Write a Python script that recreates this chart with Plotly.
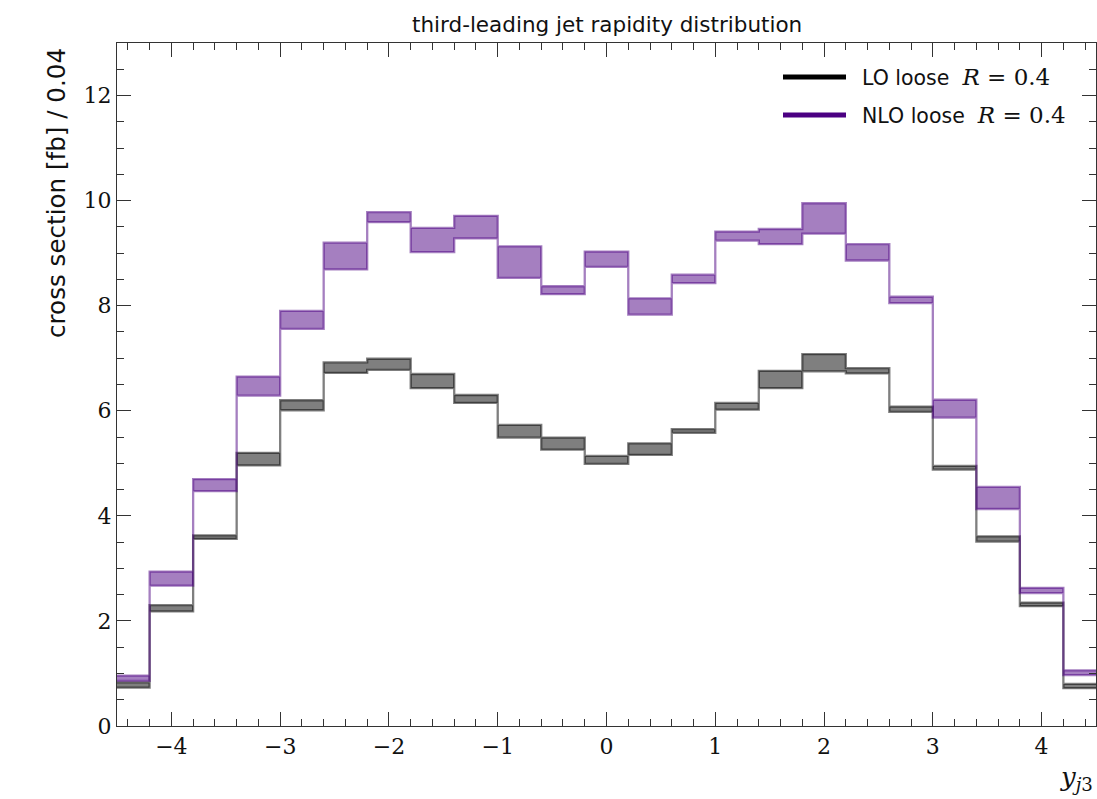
import plotly.graph_objects as go

# Rapidity bins of the third-leading jet (width 0.4)
bin_edges = [-4.6, -4.2, -3.8, -3.4, -3.0, -2.6, -2.2, -1.8, -1.4, -1.0, -0.6, -0.2,
             0.2, 0.6, 1.0, 1.4, 1.8, 2.2, 2.6, 3.0, 3.4, 3.8, 4.2, 4.6]

# LO scale-variation band (lower / upper edge), fb per bin
lo_low = [0.73, 2.18, 3.56, 4.96, 6.01, 6.72, 6.78, 6.43, 6.15, 5.49, 5.26, 4.99,
          5.16, 5.58, 6.02, 6.43, 6.75, 6.71, 5.98, 4.88, 3.51, 2.28, 0.72]
lo_high = [0.83, 2.30, 3.63, 5.20, 6.20, 6.92, 6.99, 6.70, 6.30, 5.73, 5.49, 5.14,
           5.38, 5.65, 6.15, 6.76, 7.08, 6.81, 6.08, 4.95, 3.61, 2.35, 0.80]

# NLO scale-variation band (lower / upper edge), fb per bin
nlo_low = [0.86, 2.67, 4.47, 6.29, 7.56, 8.69, 9.59, 9.02, 9.28, 8.53, 8.22, 8.74,
           7.83, 8.43, 9.24, 9.17, 9.37, 8.86, 8.05, 5.87, 4.13, 2.53, 0.97]
nlo_high = [0.96, 2.94, 4.70, 6.65, 7.90, 9.20, 9.78, 9.48, 9.71, 9.13, 8.37, 9.03,
            8.14, 8.59, 9.41, 9.46, 9.95, 9.17, 8.17, 6.21, 4.55, 2.63, 1.06]

x_ticks = [-4, -3, -2, -1, 0, 1, 2, 3, 4]
y_ticks = [0, 2, 4, 6, 8, 10, 12]

LO_COLOR = (0, 0, 0)
NLO_COLOR = (75, 0, 130)

SANS = "DejaVu Sans"
SERIF = "DejaVu Serif"

# plot-area geometry in pixels
W, H = 1097, 799
ML, MR, MT, MB = 117, 1, 43, 73
PW, PH = W - ML - MR, H - MT - MB


def rgba(c, a):
    return f"rgba({c[0]},{c[1]},{c[2]},{a})"


def band_outline(edges, low, high):
    """Closed step-shaped polygon: upper edge left->right, lower edge back."""
    xs, ys = [], []
    for i in range(len(high)):
        xs += [edges[i], edges[i + 1]]
        ys += [high[i], high[i]]
    for i in reversed(range(len(low))):
        xs += [edges[i + 1], edges[i]]
        ys += [low[i], low[i]]
    xs.append(xs[0])
    ys.append(ys[0])
    return xs, ys


fig = go.Figure()
for low, high, col in [(lo_low, lo_high, LO_COLOR), (nlo_low, nlo_high, NLO_COLOR)]:
    bx, by = band_outline(bin_edges, low, high)
    fig.add_trace(go.Scatter(
        x=bx, y=by, mode="lines", fill="toself",
        fillcolor=rgba(col, 0.5),
        line=dict(color=rgba(col, 0.5), width=2.3),
        hoverinfo="skip", showlegend=False,
    ))

axis_common = dict(
    showline=True, linecolor="#333", linewidth=1.4, mirror="allticks",
    ticks="inside", tickcolor="#333", tickwidth=1.3, ticklen=14,
    showgrid=False, zeroline=False,
    tickfont=dict(family=SERIF, size=22, color="#111"),
)

fig.update_xaxes(
    range=[-4.5, 4.5], tickmode="array", tickvals=x_ticks,
    minor=dict(ticks="inside", dtick=0.2, tick0=0, ticklen=7, tickwidth=1, tickcolor="#333"),
    **axis_common,
)
fig.update_yaxes(
    range=[0, 13], tickmode="array", tickvals=y_ticks,
    minor=dict(ticks="inside", dtick=0.5, tick0=0, ticklen=7, tickwidth=1, tickcolor="#333"),
    **axis_common,
)


def px_x(p):
    return (p - ML) / PW


def px_y(p):
    return (H - MB - p) / PH


annotations = [
    dict(text="third-leading jet rapidity distribution", xref="paper", yref="paper",
         x=0.5, y=px_y(25), xanchor="center", yanchor="middle", showarrow=False,
         font=dict(family=SANS, size=21.5, color="#111")),
    dict(text="cross section [fb] / 0.04", xref="paper", yref="paper",
         x=px_x(57), y=px_y(46), xanchor="center", yanchor="top", textangle=-90,
         showarrow=False, font=dict(family=SANS, size=24.6, color="#111")),
    dict(text="<i>y</i><sub><i>j</i>3</sub>", xref="paper", yref="paper",
         x=px_x(1095), y=px_y(778), xanchor="right", yanchor="middle", showarrow=False,
         font=dict(family=SERIF, size=26, color="#111")),
]

shapes = []
legend_items = [("LO loose", LO_COLOR, 77), ("NLO loose", NLO_COLOR, 115)]
for label, col, ypix in legend_items:
    shapes.append(dict(type="line", xref="paper", yref="paper",
                       x0=px_x(783), x1=px_x(846), y0=px_y(ypix), y1=px_y(ypix),
                       line=dict(color=rgba(col, 1), width=5)))
    annotations.append(dict(
        text=(f"{label}  <span style='font-family:{SERIF};font-size:23px'>"
              f"<i>R</i> = 0.4</span>"),
        xref="paper", yref="paper", x=px_x(860), y=px_y(ypix),
        xanchor="left", yanchor="middle", showarrow=False,
        font=dict(family=SANS, size=20.5, color="#111")))

fig.update_layout(
    width=W, height=H,
    margin=dict(l=ML, r=MR, t=MT, b=MB),
    plot_bgcolor="white", paper_bgcolor="white",
    annotations=annotations, shapes=shapes,
    showlegend=False,
)

fig.write_html("out.html")
